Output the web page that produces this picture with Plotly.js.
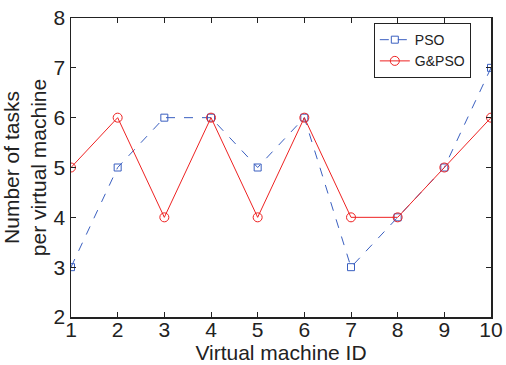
<!DOCTYPE html>
<html><head><meta charset="utf-8">
<script src="https://cdn.plot.ly/plotly-3.0.1.min.js"></script>
<style>body{margin:0;background:#fff}#c{width:506px;height:365px}</style>
</head><body><div id="c"></div>
<script>
const vmIds = [1,2,3,4,5,6,7,8,9,10];
const psoTasks = [3,5,6,6,5,6,3,4,5,7];
const gpsoTasks = [5,6,4,6,4,6,4,4,5,6];
const FF = 'Liberation Sans, Arial, sans-serif';
const tickFont = {family:FF, size:21, color:'#222'};
const traces = [
  {x:vmIds, y:psoTasks, name:'PSO', type:'scatter', mode:'lines+markers',
   line:{color:'#3a5fc0', width:1, dash:'dash'},
   marker:{symbol:'square-open', size:7, color:'#3a5fc0', line:{width:1}}},
  {x:vmIds, y:gpsoTasks, name:'G&PSO', type:'scatter', mode:'lines+markers',
   line:{color:'#ee2222', width:1},
   marker:{symbol:'circle-open', size:9, color:'#ee2222', line:{width:1}}}
];
const axisCommon = {showgrid:false, zeroline:false, showline:true, mirror:'ticks',
  linecolor:'#222', linewidth:1.5, ticks:'inside', ticklen:5, tickcolor:'#222', tickfont:tickFont};
const layout = {
  width:506, height:365, paper_bgcolor:'#fff', plot_bgcolor:'#fff',
  margin:{l:71, r:15, t:18, b:48},
  showlegend:true,
  legend:{x:0.721, y:0.983, xanchor:'left', yanchor:'top', bordercolor:'#222', borderwidth:1,
    bgcolor:'#fff', font:{family:FF, size:14, color:'#222'}, tracegroupgap:0,
    entrywidth:70},
  xaxis:Object.assign({}, axisCommon, {range:[1,10], tickvals:vmIds, ticklabelstandoff:-7,
    title:{text:'Virtual machine ID', standoff:4, font:{family:FF, size:21, color:'#222'}}}),
  yaxis:Object.assign({}, axisCommon, {range:[2,8], dtick:1,
    title:{text:'Number of tasks<br>per virtual machine', standoff:2, font:{family:FF, size:21, color:'#222'}}})
};
Plotly.newPlot('c', traces, layout, {staticPlot:true, displayModeBar:false});
</script></body></html>
